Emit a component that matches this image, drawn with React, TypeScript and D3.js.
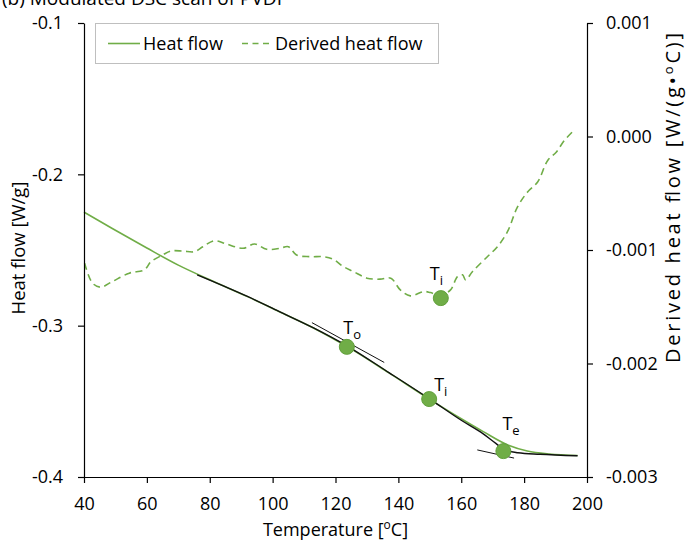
import { useEffect, useRef } from "react";
import * as d3 from "d3";

const W = 686;
const H = 542;
const margin = { top: 23, right: 99, bottom: 65, left: 84 };
const GREEN = "#70AD47";
const FONT = "'Open Sans', sans-serif";

// axis ticks
const tempTicks = [40, 60, 80, 100, 120, 140, 160, 180, 200];
const heatTicks = [-0.4, -0.3, -0.2, -0.1];
const derivTicks = [-0.003, -0.002, -0.001, 0, 0.001];

// measured heat flow (green solid)
const heatTemp = [40, 49, 60, 70, 80, 92, 102, 113, 124, 137, 150, 160, 167, 175, 181, 188, 197];
const heatFlow = [
  -0.225, -0.2358, -0.2487, -0.26, -0.2697, -0.2808, -0.2906, -0.3015, -0.3142, -0.3312,
  -0.3487, -0.3615, -0.37, -0.379, -0.3828, -0.3848, -0.3858,
];

// fitted heat flow (black)
const fitTemp = [76, 92, 102, 113, 124, 137, 150, 160, 167, 171, 174, 178, 185, 197];
const fitFlow = [
  -0.2664, -0.2807, -0.2906, -0.3015, -0.3138, -0.331, -0.3485, -0.3625, -0.3715, -0.3778,
  -0.3822, -0.384, -0.385, -0.386,
];

// derived heat flow (green dashed, right axis)
const derivTemp = [
  40.2, 42.7, 45.3, 49.0, 54.4, 59.2, 61.3, 65.0, 67.7, 71.4, 75.1, 77.8, 81.5, 85.3, 90.6, 94.3,
  98.1, 102.3, 105.0, 107.6, 111.9, 116.1, 119.3, 122.5, 125.7, 130.0, 134.2, 137.6, 140.6, 143.8,
  148.1, 150.2, 153.4, 156.6, 158.8, 160.4, 161.4, 163.6, 168.3, 171.5, 174.7, 177.9, 181.1, 184.3,
  187.5, 190.2, 192.8, 196.0,
];
const derivFlow = [
  -1.117e-3, -1.292e-3, -1.327e-3, -1.278e-3, -1.204e-3, -1.175e-3, -1.103e-3, -1.044e-3, -1.009e-3,
  -1.009e-3, -1.015e-3, -0.971e-3, -0.918e-3, -0.947e-3, -0.985e-3, -0.947e-3, -0.994e-3, -0.985e-3,
  -0.971e-3, -1.044e-3, -1.059e-3, -1.059e-3, -1.082e-3, -1.146e-3, -1.19e-3, -1.248e-3, -1.257e-3,
  -1.248e-3, -1.351e-3, -1.404e-3, -1.366e-3, -1.375e-3, -1.4e-3, -1.351e-3, -1.234e-3, -1.219e-3,
  -1.263e-3, -1.19e-3, -1.059e-3, -0.971e-3, -0.839e-3, -0.62e-3, -0.489e-3, -0.401e-3, -0.211e-3,
  -0.138e-3, -0.035e-3, 0.059e-3,
];

// characteristic temperatures on heat flow
const markSub = ["o", "i", "e"];
const markTemp = [123.6, 149.8, 173.4];
const markFlow = [-0.314, -0.3485, -0.3829];
// label offsets (px) relative to each marker
const markDx = [-3.5, 5, -1];
const markDy = [-13, -8, -21];

// inflection on derived curve
const derivMarkTemp = 153.5;
const derivMarkFlow = -1.424e-3;

// tangent lines
const tangentTemp = [[112.5, 135.5], [165.1, 176.8]];
const tangentFlow = [[-0.298, -0.3243], [-0.3821, -0.3875]];

export default function App() {
  const xAxisRef = useRef<SVGGElement | null>(null);
  const yLeftRef = useRef<SVGGElement | null>(null);
  const yRightRef = useRef<SVGGElement | null>(null);

  const x = d3.scaleLinear().domain([40, 200]).range([margin.left, W - margin.right]);
  const yL = d3.scaleLinear().domain([-0.4, -0.1]).range([H - margin.bottom, margin.top]);
  const yR = d3.scaleLinear().domain([-0.003, 0.001]).range([H - margin.bottom, margin.top]);

  useEffect(() => {
    const style = (g: d3.Selection<SVGGElement, unknown, null, undefined>) => {
      g.selectAll("text").attr("font-family", FONT).attr("font-size", 18).attr("fill", "#000");
      g.selectAll("line,path").attr("stroke", "#000").attr("stroke-width", 1.2);
    };
    const gx = d3.select(xAxisRef.current!);
    gx.call(d3.axisBottom(x).tickValues(tempTicks).tickSize(6).tickSizeOuter(0).tickPadding(14).tickFormat((d) => String(d)));
    style(gx);
    const gl = d3.select(yLeftRef.current!);
    gl.call(
      d3.axisLeft(yL).tickValues(heatTicks).tickSize(6).tickSizeOuter(0).tickPadding(15)
        .tickFormat((d) => (+d).toFixed(1))
    );
    style(gl);
    const gr = d3.select(yRightRef.current!);
    gr.call(
      d3.axisRight(yR).tickValues(derivTicks).tickSize(6).tickSizeOuter(0).tickPadding(13)
        .tickFormat((d) => (Math.abs(+d) < 1e-9 ? "0.000" : (+d).toFixed(3)))
    );
    style(gr);
  }, []);

  const heatLine = d3.line<number>().x((_, i) => x(heatTemp[i])).y((d) => yL(d)).curve(d3.curveMonotoneX);
  const fitLine = d3.line<number>().x((_, i) => x(fitTemp[i])).y((d) => yL(d)).curve(d3.curveMonotoneX);
  const derivLine = d3.line<number>().x((_, i) => x(derivTemp[i])).y((d) => yR(d)).curve(d3.curveCatmullRom);

  return (
    <div style={{ position: "absolute", left: 0, top: 0 }}>
      <svg width={W} height={H} style={{ display: "block", background: "#fff" }} fontFamily={FONT}>
        <text x={2} y={5} fontSize={19} fill="#000">(b) Modulated DSC scan of PVDF</text>

        <path d={heatLine(heatFlow) ?? ""} fill="none" stroke={GREEN} strokeWidth={1.6} />
        <path d={fitLine(fitFlow) ?? ""} fill="none" stroke="#111" strokeWidth={1.4} />
        <path
          d={derivLine(derivFlow) ?? ""}
          fill="none"
          stroke={GREEN}
          strokeWidth={1.6}
          strokeDasharray="7,4.5"
        />

        {tangentTemp.map((t, i) => (
          <line
            key={i}
            x1={x(t[0])}
            y1={yL(tangentFlow[i][0])}
            x2={x(t[1])}
            y2={yL(tangentFlow[i][1])}
            stroke="#111"
            strokeWidth={1}
          />
        ))}

        {markTemp.map((t, i) => (
          <g key={i}>
            <circle cx={x(t)} cy={yL(markFlow[i])} r={7.5} fill={GREEN} stroke="#62a03c" strokeWidth={1} />
            <text x={x(t) + markDx[i]} y={yL(markFlow[i]) + markDy[i]} fontSize={18} fill="#000">
              T<tspan fontSize={13} dy={5}>{markSub[i]}</tspan>
            </text>
          </g>
        ))}
        <circle cx={x(derivMarkTemp)} cy={yR(derivMarkFlow)} r={7.5} fill={GREEN} stroke="#62a03c" strokeWidth={1} />
        <text x={x(derivMarkTemp) - 11} y={yR(derivMarkFlow) - 18} fontSize={18} fill="#000">
          T<tspan fontSize={13} dy={5}>i</tspan>
        </text>

        <g ref={xAxisRef} transform={`translate(0,${H - margin.bottom})`} />
        <g ref={yLeftRef} transform={`translate(${margin.left},0)`} />
        <g ref={yRightRef} transform={`translate(${W - margin.right},0)`} />

        {/* legend */}
        <rect x={95.5} y={23.5} width={343} height={40} fill="#fff" stroke="#bfbfbf" strokeWidth={1} />
        <line x1={108} x2={140} y1={43.5} y2={43.5} stroke={GREEN} strokeWidth={1.6} />
        <text x={143} y={49.5} fontSize={18} fill="#000">Heat flow</text>
        <line x1={242} x2={273} y1={43.5} y2={43.5} stroke={GREEN} strokeWidth={1.6} strokeDasharray="6,4.5" />
        <text x={275} y={49.5} fontSize={18} fill="#000">Derived heat flow</text>

        {/* axis titles */}
        <text x={(margin.left + W - margin.right) / 2} y={536} fontSize={18} textAnchor="middle" fill="#000">
          Temperature [<tspan fontSize={12} dy={-7}>o</tspan>
          <tspan dy={7}>C]</tspan>
        </text>
        <text transform="translate(25,248) rotate(-90)" fontSize={18.5} textAnchor="middle" fill="#000">
          Heat flow [W/g]
        </text>
        <text
          transform="translate(680,198) rotate(-90)"
          fontSize={20}
          textAnchor="middle"
          textLength={330}
          lengthAdjust="spacing"
          fill="#000"
        >
          Derived heat flow [W/(g•<tspan fontSize={13} dy={-7}>o</tspan>
          <tspan dy={7}>C)]</tspan>
        </text>
      </svg>
    </div>
  );
}
